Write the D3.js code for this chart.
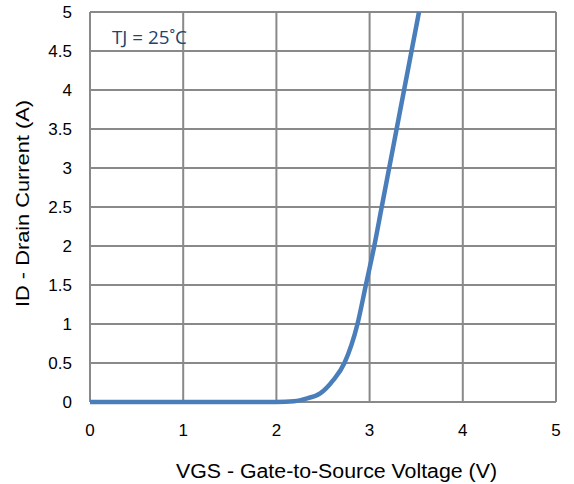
<!DOCTYPE html>
<html><head><meta charset="utf-8">
<script src="https://cdn.jsdelivr.net/npm/d3@7"></script>
<style>body{margin:0;background:#fff}</style>
</head><body>
<svg id="c" width="574" height="484"></svg>
<script>
const vgs = [0, 1.0, 2.0, 2.19, 2.33, 2.47, 2.61, 2.73, 2.87, 2.96, 3.05, 3.13, 3.21, 3.29, 3.37, 3.45, 3.53];
const idA = [0, 0, 0, 0.01, 0.047, 0.11, 0.28, 0.5, 1.0, 1.5, 2.0, 2.5, 3.0, 3.5, 4.0, 4.5, 5.0];
const xTicks = [0, 1, 2, 3, 4, 5];
const yTicks = [0, 0.5, 1, 1.5, 2, 2.5, 3, 3.5, 4, 4.5, 5];
const xTitle = "VGS - Gate-to-Source Voltage (V)";
const yTitle = "ID - Drain Current (A)";
const note = "TJ = 25˚C";

const svg = d3.select("#c");
const L = 90, R = 556, T = 12, B = 402;
const x = d3.scaleLinear().domain([0, 5]).range([L, R]);
const y = d3.scaleLinear().domain([0, 5]).range([B, T]);

const g = svg.append("g");
g.selectAll(".vg").data(xTicks).join("line")
  .attr("x1", d => x(d)).attr("x2", d => x(d)).attr("y1", T).attr("y2", B)
  .attr("stroke", "#898989").attr("stroke-width", 2);
g.selectAll(".hg").data(yTicks).join("line")
  .attr("x1", L).attr("x2", R).attr("y1", d => y(d)).attr("y2", d => y(d))
  .attr("stroke", "#898989").attr("stroke-width", 2);

const font = "'Liberation Sans', Arial, sans-serif";
svg.selectAll(".xt").data(xTicks).join("text")
  .attr("x", d => x(d)).attr("y", 436).attr("text-anchor", "middle")
  .attr("font-family", font).attr("font-size", 17).attr("fill", "#000")
  .text(d => d);
svg.selectAll(".yt").data(yTicks).join("text")
  .attr("x", 72).attr("y", d => y(d) + 6).attr("text-anchor", "end")
  .attr("font-family", font).attr("font-size", 17).attr("fill", "#000")
  .text(d => d);

svg.append("text").attr("x", 176).attr("y", 478)
  .attr("textLength", 321).attr("lengthAdjust", "spacingAndGlyphs")
  .attr("font-family", font).attr("font-size", 19.5).text(xTitle);
svg.append("text").attr("transform", "translate(28.5,307) rotate(-90)")
  .attr("textLength", 207).attr("lengthAdjust", "spacingAndGlyphs")
  .attr("font-family", font).attr("font-size", 18).text(yTitle);

const pts = vgs.map((v, i) => [v, idA[i]]);
const line = d3.line().x(d => x(d[0])).y(d => y(d[1])).curve(d3.curveMonotoneX);
svg.append("path").datum(pts).attr("d", line)
  .attr("fill", "none").attr("stroke", "#4a7ebb").attr("stroke-width", 4.5)
  .attr("stroke-linecap", "butt");

svg.append("text").attr("x", 112).attr("y", 44)
  .attr("textLength", 75).attr("lengthAdjust", "spacingAndGlyphs")
  .attr("font-family", "'Open Sans', 'Noto Sans', sans-serif").attr("font-size", 18)
  .attr("fill", "#25426a").text(note);
</script>
</body></html>
